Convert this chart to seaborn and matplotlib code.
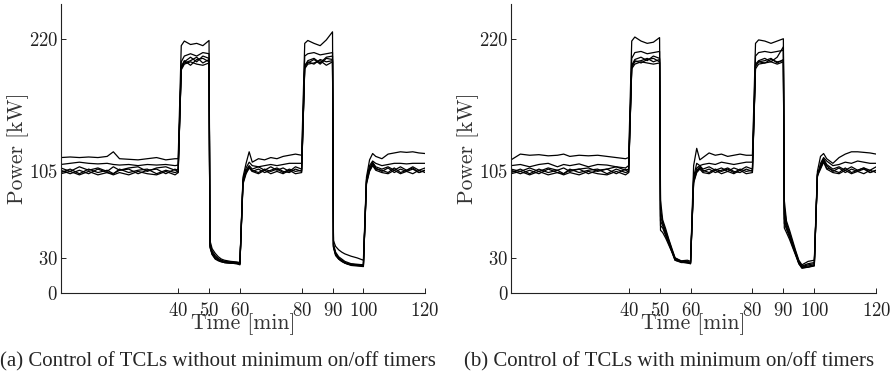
import numpy as np
import pandas as pd
import seaborn as sns
import matplotlib.pyplot as plt

# time grid [min], shared by all runs
t_min = [2, 5, 8, 11, 14, 17, 19, 21, 24, 27, 30, 33, 36, 39, 40,
         41, 42, 44, 46, 48, 50,
         50.3, 51, 52, 53, 54, 55, 57, 59, 60,
         61, 62, 63, 64, 66, 68, 70, 72, 74, 76, 78, 80,
         81, 82, 84, 86, 88, 90,
         90.3, 91, 92, 93, 94, 95, 96, 98, 100,
         101, 102, 103, 104, 106, 108, 110, 112, 114, 116, 118, 120]

# (a) without minimum on/off timers, power [kW]
a_run1 = [117, 117.5, 117, 117.5, 117, 118, 122, 116, 115.5, 115, 116, 117, 115, 116, 116,
          214, 218, 215, 216, 214, 218.5,
          45, 38, 34, 31, 29, 28, 27, 26.5, 26,
          100, 112, 122, 113, 116, 115, 117, 116, 118, 119, 120, 119,
          216, 218.5, 216, 214, 219, 226,
          45, 40, 37, 35, 33.5, 32.5, 31.5, 30, 28,
          100, 115, 120.5, 118, 116, 120, 121, 122, 121.5, 122, 121, 120.5]
a_run2 = [111, 112, 113, 112, 111.5, 112, 111, 110.5, 111, 110, 111, 110.5, 111, 110, 110.5,
          200, 205, 207, 205, 208, 207,
          43, 36, 32, 29.5, 28, 27, 26.5, 26, 25.5,
          98, 108, 113, 110, 109, 110, 111, 110, 111, 112, 112, 112,
          205, 207, 208, 206, 207, 208,
          42, 35, 31, 29, 27, 26, 25, 24.5, 24,
          98, 110, 114, 112, 110, 111, 112, 112, 111.5, 112, 112, 112]
a_run3 = [108, 105, 109, 106, 108, 105, 109, 106, 108, 109, 105, 108, 109, 106, 107,
          195, 200, 204, 200, 205, 203,
          42, 35, 31, 29, 27.5, 27, 26, 25.5, 25,
          97, 106, 110, 107, 109, 106, 109, 106, 108, 105, 109, 107,
          196, 201, 203, 199, 204, 205,
          41, 34, 30, 28, 26, 25, 24.5, 24, 23,
          97, 108, 113, 109, 107, 109, 106, 109, 106, 109, 106, 108]
a_run4 = [104, 107, 103, 107, 104, 106, 103, 107, 104, 106, 107, 103, 106, 104, 105,
          194, 199, 201, 204, 199, 202,
          41, 34, 30, 28, 27, 26, 25.5, 25, 24.5,
          96, 104, 108, 106, 104, 107, 105, 107, 104, 107, 105, 106,
          195, 199, 202, 198, 203, 202,
          40, 33, 29, 27, 25.5, 24.5, 24, 23.5, 23,
          96, 107, 112, 108, 105, 108, 104, 107, 105, 107, 104, 106]
a_run5 = [106, 103, 106, 103, 107, 104, 103, 106, 107, 103, 106, 107, 103, 107, 104,
          196, 201, 197, 202, 203, 200,
          40, 33, 29.5, 28, 27, 26, 25.5, 25.5, 25,
          95, 105, 109, 105, 107, 104, 106, 108, 105, 104, 107, 105,
          197, 200, 198, 202, 200, 201,
          40, 33, 29.5, 27.5, 26, 25, 24.5, 24, 24,
          95, 106, 111, 107, 106, 104, 108, 104, 106, 108, 104, 106]
a_run6 = [103, 105, 102, 105, 102, 104, 102, 104, 102, 105, 103, 102, 105, 102, 104,
          193, 198, 200, 198, 197, 199,
          39, 33, 29, 27.5, 26.5, 26, 25.5, 25, 24,
          94, 103, 108, 105, 103, 106, 103, 105, 103, 106, 103, 104,
          194, 198, 199, 201, 197, 200,
          39, 32, 29, 27, 25.5, 24.5, 23.5, 23, 22.5,
          94, 105, 110, 106, 104, 103, 106, 103, 105, 103, 106, 104]

# (b) with minimum on/off timers, power [kW]
b_run1 = [115, 120, 119, 119.5, 118.5, 119, 120, 118, 119, 118.5, 119, 118, 117, 116, 117,
          218, 221.5, 218, 216, 217, 221,
          80, 63, 55, 46, 38, 30, 27, 27, 26,
          110, 125, 115, 117, 121, 119, 120, 118, 119, 120, 119, 119,
          216, 219, 218, 216, 218, 220,
          80, 62, 54, 45, 36, 28, 24, 27, 28,
          105, 118, 120.5, 116, 112, 117, 120, 122, 122, 121.5, 121, 120]
b_run2 = [110, 111, 109, 111, 112, 109, 111, 110, 111.5, 109, 111, 110.5, 109, 108, 110,
          203, 208, 209, 207, 208, 209,
          72, 61, 53, 45, 37, 30, 27.5, 28, 27,
          100, 112, 110, 111, 112, 111, 113, 112, 111, 112, 113, 113,
          205, 208, 209, 208, 209, 210,
          74, 60, 52, 43, 35, 27, 23, 25, 26,
          100, 112, 117, 114, 110, 111, 113, 112, 114, 113, 112, 112]
b_run3 = [107, 105, 108, 105, 108, 106, 108, 105, 107, 108, 105, 107, 109, 106, 107,
          197, 202, 204, 201, 205, 203,
          66, 60, 52, 44, 36, 29, 26.5, 26, 26,
          98, 108, 110, 107, 109, 106, 108, 105, 108, 106, 109, 107,
          198, 201, 203, 200, 204, 213,
          68, 58, 50, 42, 34, 26, 22.5, 24, 25,
          102, 110, 116, 111, 107, 109, 106, 109, 106, 108, 106, 109]
b_run4 = [104, 107, 103, 107, 104, 106, 103, 107, 104, 106, 107, 103, 107, 104, 105,
          196, 200, 201, 203, 200, 202,
          62, 58, 50, 43, 36, 29, 27, 26.5, 25.5,
          97, 106, 109, 106, 104, 107, 105, 107, 104, 107, 105, 106,
          196, 200, 201, 203, 199, 202,
          64, 56, 49, 41, 33, 26, 22, 23, 24,
          103, 109, 115, 110, 105, 108, 104, 107, 105, 107, 104, 106]
b_run5 = [106, 103, 106, 103, 107, 104, 103, 106, 107, 103, 106, 107, 103, 107, 104,
          195, 201, 199, 202, 203, 200,
          58, 56, 49, 42, 35, 28, 26, 26, 25,
          96, 105, 108, 105, 107, 104, 106, 108, 105, 104, 107, 105,
          197, 200, 199, 202, 200, 201,
          60, 55, 48, 40, 33, 25, 21.5, 22, 23.5,
          102, 108, 114, 108, 106, 104, 108, 104, 106, 108, 104, 106]
b_run6 = [103, 105, 102, 105, 102, 104, 102, 104, 102, 105, 103, 102, 105, 102, 104,
          194, 198, 200, 199, 198, 199,
          54, 52, 47, 41, 35, 28, 26.5, 25.5, 25,
          95, 104, 107, 104, 103, 106, 103, 105, 103, 106, 103, 104,
          194, 198, 199, 200, 198, 200,
          56, 52, 46, 39, 32, 25, 21, 22, 23,
          101, 107, 113, 107, 104, 103, 106, 103, 105, 103, 106, 104]

panels = [
    ([a_run1, a_run2, a_run3, a_run4, a_run5, a_run6],
     '(a) Control of TCLs without minimum on/off timers'),
    ([b_run1, b_run2, b_run3, b_run4, b_run5, b_run6],
     '(b) Control of TCLs with minimum on/off timers'),
]

xticks = [40, 50, 60, 80, 90, 100, 120]
yticks = [0, 30, 105, 220]

sns.set_style('ticks')
plt.rcParams['font.family'] = ['cmr10', 'DejaVu Serif']
plt.rcParams['axes.formatter.use_mathtext'] = True

fig = plt.figure(figsize=(8.95, 3.76), dpi=100)
ax_boxes = [[0.068, 0.222, 0.407, 0.767], [0.571, 0.222, 0.408, 0.767]]
caption_x = [0.244, 0.747]

for i, (runs, caption) in enumerate(panels):
    ax = fig.add_axes(ax_boxes[i])
    df = pd.DataFrame({
        't': np.tile(t_min, len(runs)),
        'kW': np.concatenate(runs),
        'run': np.repeat(np.arange(len(runs)), len(t_min)),
    })
    sns.lineplot(data=df, x='t', y='kW', units='run', estimator=None,
                 color='black', linewidth=0.9, ax=ax)
    ax.set_xlim(2, 120)
    ax.set_ylim(0, 250)
    ax.set_xticks(xticks)
    ax.set_yticks(yticks)
    ax.tick_params(direction='in', length=3.5, width=0.7, labelsize=13.5,
                   colors='#222222')
    ax.tick_params(axis='x', pad=6.7)
    ax.tick_params(axis='y', pad=2)
    for s in ['top', 'right']:
        ax.spines[s].set_visible(False)
    for s in ['left', 'bottom']:
        ax.spines[s].set_linewidth(0.8)
        ax.spines[s].set_color('#222222')
    ax.set_xlabel('Time [min]', fontsize=15.5, labelpad=-5, color='#333333')
    ax.set_ylabel('Power [kW]', fontsize=15.5, labelpad=0, color='#333333')
    fig.text(caption_x[i], 0.037, caption, ha='center', va='center',
             fontsize=15, family=['Liberation Serif'])

fig.savefig('out.png', dpi=100)
